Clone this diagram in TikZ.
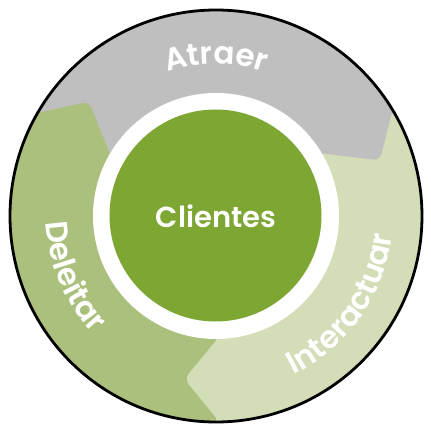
\documentclass[tikz,border=0pt]{standalone}
\usepackage{fontspec}
\setmainfont{Poppins}[BoldFont={Poppins SemiBold}]
\usetikzlibrary{calc,decorations.text}
\definecolor{grayseg}{HTML}{BFBFC0}
\definecolor{delgreen}{HTML}{AAC07C}
\definecolor{intgreen}{HTML}{D3DDB7}
\definecolor{cgreen}{HTML}{7DA632}
\newcommand\segtip[4]{% #1 base angle, #2 tip angle, #3 tip radius, #4 colour
  \fill[#4, rounded corners=7pt]
    ($(#2:#3)!1.6!(#1:206)$) -- (#2:#3) -- ($(#2:#3)!1.6!(#1:122)$)
    -- (0,0) -- ({#1+20}:260) -- cycle;}
\tikzset{
  ringlabel/.style={decorate, decoration={text along path, text align=center,
     text color=white, text={|\fontsize{31}{32}\selectfont\bfseries|#1}}}
}
\begin{document}
\begin{tikzpicture}[x=1pt,y=1pt]
\useasboundingbox (-216,-215) rectangle (215,216);
\begin{scope}
  \clip (0,0) circle (206);
  \fill[grayseg] (0,0) -- (150:260) arc (150:30:260) -- cycle;
  \fill[intgreen] (0,0) -- (30:260) arc (30:-90:260) -- cycle;
  \fill[delgreen] (0,0) -- (-90:260) arc (-90:-210:260) -- cycle;
  \segtip{31}{18.7}{173}{grayseg}
  \segtip{150}{138}{171}{delgreen}
  \segtip{-89}{-101}{166}{intgreen}
\end{scope}
\fill[white] (0,0) circle (123);
\fill[cgreen] (-0.5,0.5) circle (106);
\draw[line width=2.8pt] (0,0) circle (206);
\node[text=white, font=\fontsize{29}{30}\selectfont\bfseries, anchor=base] (cli) at (0,-12) {Clientes};
\path[ringlabel=Atraer] (125:152) arc (125:55:152);
\path[ringlabel=Deleitar] (160:170) arc (160:246:170);
\path[ringlabel=Interactuar] (-85:177) arc (-85:15:177);
\end{tikzpicture}
\end{document}
